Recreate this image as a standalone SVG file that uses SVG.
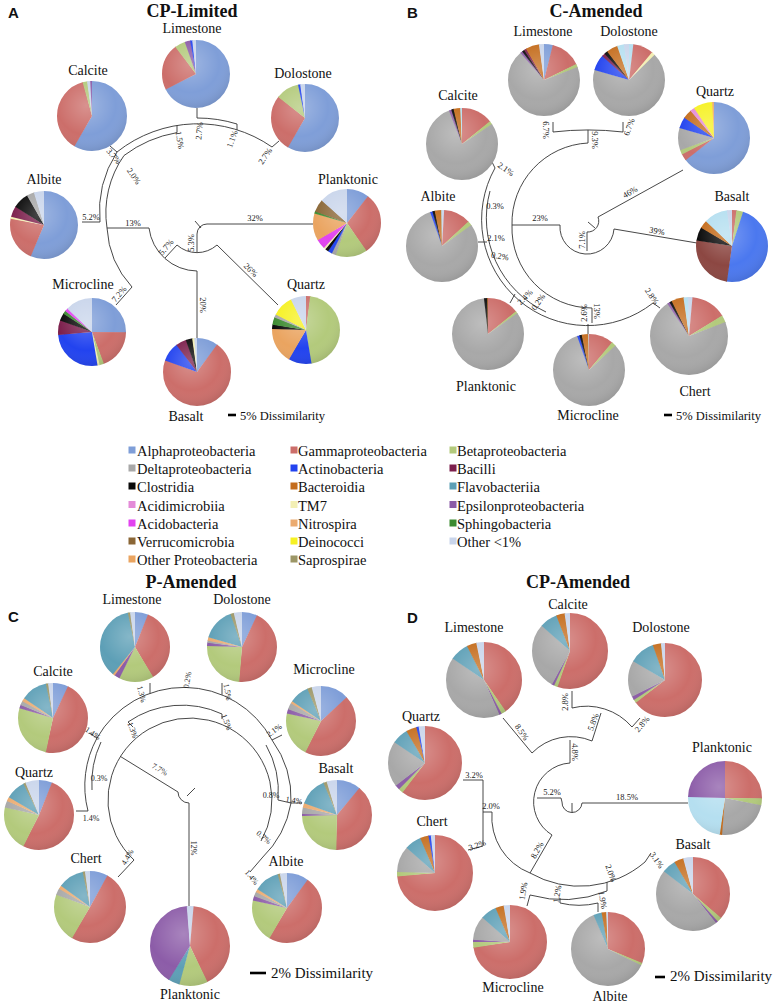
<svg xmlns="http://www.w3.org/2000/svg" width="773" height="1005" viewBox="0 0 773 1005">
<style>
.t{fill:none;stroke:#333;stroke-width:.9}
.l{font-family:"Liberation Serif",serif;font-size:8.5px;fill:#222;text-anchor:middle}
.lc{font-family:"Liberation Serif",serif;font-size:8px;fill:#222;text-anchor:middle}
.n{font-family:"Liberation Serif",serif;font-size:14px;fill:#111;text-anchor:middle}
.ti{font-family:"Liberation Serif",serif;font-weight:bold;font-size:18px;fill:#111;text-anchor:middle}
.pl{font-family:"Liberation Sans",Arial,sans-serif;font-weight:bold;font-size:15px;fill:#111}
.lg{font-family:"Liberation Serif",serif;font-size:14.5px;fill:#111}
.sc{font-family:"Liberation Serif",serif;fill:#111}
.bar{stroke:#000;stroke-width:2.6}
.al{stroke:#7f9ed8;fill:#7f9ed8}.ga{stroke:#cc6e6a;fill:#cc6e6a}.be{stroke:#b3ca7c;fill:#b3ca7c}
.de{stroke:#a8a8a8;fill:#a8a8a8}.ac{stroke:#2243ef;fill:#2243ef}.ac2{stroke:#4b78ef}
.ba{stroke:#7c1f4c;fill:#7c1f4c}.cl{stroke:#0a0a0a;fill:#0a0a0a}.bd{stroke:#c46c1c;fill:#c46c1c}
.fl{stroke:#5d9fb6;fill:#5d9fb6}.fl2{stroke:#b5dff0}.am{stroke:#e48bd8;fill:#e48bd8}
.tm{stroke:#f3efb4;fill:#f3efb4}.ep{stroke:#8c5ca8;fill:#8c5ca8}.ab{stroke:#e243f0;fill:#e243f0}
.ni{stroke:#ebab70;fill:#ebab70}.sp{stroke:#3c8b30;fill:#3c8b30}.ve{stroke:#8a6636;fill:#8a6636}
.dn{stroke:#f6f122;fill:#f6f122}.ot{stroke:#c9d5eb;fill:#c9d5eb}.op{stroke:#eaa460;fill:#eaa460}
.sa{stroke:#9c9666;fill:#9c9666}.rb{stroke:#8c4742}
</style>
<defs>
<circle id="w" r="15.9155" fill="none" stroke-width="31.831"/>
<radialGradient id="shg" cx=".42" cy=".35" r=".7"><stop offset="0" stop-color="#fff" stop-opacity=".25"/><stop offset=".6" stop-color="#fff" stop-opacity="0"/><stop offset="1" stop-color="#000" stop-opacity=".12"/></radialGradient>
<circle id="sh" r="31.831" fill="url(#shg)"/>
</defs>
<rect width="773" height="1005" fill="#fff"/>

<!-- Titles -->
<text class="pl" x="8" y="18">A</text>
<text class="ti" x="192" y="17">CP-Limited</text>
<text class="pl" x="407" y="18">B</text>
<text class="ti" x="596" y="17">C-Amended</text>
<text class="pl" x="8" y="622">C</text>
<text class="ti" x="191" y="588">P-Amended</text>
<text class="pl" x="407" y="623">D</text>
<text class="ti" x="578" y="588">CP-Amended</text>

<!-- ===== Panel A connectors ===== -->
<g id="connectors-a" class="t">
<path d="M207,224 H313"/>
<path d="M207,224 A10,10 0 0 0 197,234 V252"/>
<path d="M195,221 L201,228"/>
<path d="M177,245 A30,30 0 0 0 217,245 L278,305"/>
<path d="M177,245 L165,258"/>
<path d="M149,228 A49,49 0 0 0 197,271 V338"/>
<path d="M107,228 H149"/>
<path d="M124,155.5 A100,100 0 0 0 107,228 A95,95 0 0 0 132,287 L116,305"/>
<path d="M117,152 A110,110 0 0 0 100,222 H82"/>
<path d="M117,152 A130,130 0 0 1 272,147 L279,141"/>
<path d="M117,152 L110,146"/>
<path d="M177,132.6 A123,123 0 0 0 124,155.5"/>
<path d="M177,125.5 V132.6"/>
<path d="M197,108 V118 A134,134 0 0 1 237,124 V130"/>
</g>
<g id="labels-a">
<text class="l" x="255" y="221">32%</text>
<text class="l" transform="translate(251 270) rotate(45)" y="3">26%</text>
<text class="l" transform="translate(203 305) rotate(90)" y="3">20%</text>
<text class="l" transform="translate(191 243) rotate(-90)" y="3">5.3%</text>
<text class="l" transform="translate(166 247) rotate(-50)" y="3">5.7%</text>
<text class="l" x="133" y="226">13%</text>
<text class="l" x="91" y="220">5.2%</text>
<text class="l" transform="translate(119 294) rotate(-50)" y="3">7.2%</text>
<text class="l" transform="translate(134 176) rotate(55)" y="3">2.0%</text>
<text class="l" transform="translate(114 156) rotate(50)" y="3">3.7%</text>
<text class="l" transform="translate(180 140) rotate(80)" y="3">1.5%</text>
<text class="l" transform="translate(199 131) rotate(-85)" y="3">2.7%</text>
<text class="l" transform="translate(232 139) rotate(-70)" y="3">1.1%</text>
<text class="l" transform="translate(265 156) rotate(-55)" y="3">2.7%</text>
</g>

<!-- ===== Panel A nodes ===== -->
<g id="a-limestone"><g transform="translate(196 74) scale(1.068)"><g transform="rotate(-90)">
<use href="#w" class="al" stroke-dasharray="67.3 100"/><use href="#w" class="ga" stroke-dasharray="22.3 100" stroke-dashoffset="-67"/><use href="#w" class="be" stroke-dasharray="5.3 100" stroke-dashoffset="-89"/><use href="#w" class="ep" stroke-dasharray="2.8 100" stroke-dashoffset="-94"/><use href="#w" class="ac" stroke-dasharray="1.3 100" stroke-dashoffset="-96.5"/><use href="#w" class="ot" stroke-dasharray="2.5 100" stroke-dashoffset="-97.5"/>
</g><use href="#sh"/></g><text class="n" x="192" y="33">Limestone</text></g>

<g id="a-calcite"><g transform="translate(92 116) scale(1.0996)"><g transform="rotate(-90)">
<use href="#w" class="al" stroke-dasharray="58.3 100"/><use href="#w" class="ga" stroke-dasharray="37.3 100" stroke-dashoffset="-58"/><use href="#w" class="be" stroke-dasharray="2.3 100" stroke-dashoffset="-95"/><use href="#w" class="ot" stroke-dasharray="1.8 100" stroke-dashoffset="-97"/><use href="#w" class="ep" stroke-dasharray="1.5 100" stroke-dashoffset="-98.5"/>
</g><use href="#sh"/></g><text class="n" x="88" y="75">Calcite</text></g>

<g id="a-dolostone"><g transform="translate(305 118) scale(1.068)"><g transform="rotate(-90)">
<use href="#w" class="al" stroke-dasharray="58.3 100"/><use href="#w" class="ga" stroke-dasharray="27.3 100" stroke-dashoffset="-58"/><use href="#w" class="be" stroke-dasharray="11.3 100" stroke-dashoffset="-85"/><use href="#w" class="ac" stroke-dasharray="1.3 100" stroke-dashoffset="-96"/><use href="#w" class="ot" stroke-dasharray="3 100" stroke-dashoffset="-97"/>
</g><use href="#sh"/></g><text class="n" x="303" y="78">Dolostone</text></g>

<g id="a-albite"><g transform="translate(44 225) scale(1.068)"><g transform="rotate(-90)">
<use href="#w" class="al" stroke-dasharray="56.3 100"/><use href="#w" class="ga" stroke-dasharray="21.8 100" stroke-dashoffset="-56"/><use href="#w" class="tm" stroke-dasharray="1.3 100" stroke-dashoffset="-77.5"/><use href="#w" class="ba" stroke-dasharray="5.3 100" stroke-dashoffset="-78.5"/><use href="#w" class="cl" stroke-dasharray="7.8 100" stroke-dashoffset="-83.5"/><use href="#w" class="de" stroke-dasharray="3.8 100" stroke-dashoffset="-91"/><use href="#w" class="ot" stroke-dasharray="5.5 100" stroke-dashoffset="-94.5"/>
</g><use href="#sh"/></g><text class="n" x="44" y="184">Albite</text></g>

<g id="a-planktonic"><g transform="translate(347 223) scale(1.068)"><g transform="rotate(-90)">
<use href="#w" class="al" stroke-dasharray="10.8 100"/><use href="#w" class="ga" stroke-dasharray="29.8 100" stroke-dashoffset="-10.5"/><use href="#w" class="be" stroke-dasharray="15.3 100" stroke-dashoffset="-40"/><use href="#w" class="de" stroke-dasharray="2.3 100" stroke-dashoffset="-55"/><use href="#w" class="ac" stroke-dasharray="2.3 100" stroke-dashoffset="-57"/><use href="#w" class="cl" stroke-dasharray="1.8 100" stroke-dashoffset="-59"/><use href="#w" class="tm" stroke-dasharray="1.3 100" stroke-dashoffset="-60.5"/><use href="#w" class="ab" stroke-dasharray="4.8 100" stroke-dashoffset="-61.5"/><use href="#w" class="op" stroke-dasharray="13.3 100" stroke-dashoffset="-66"/><use href="#w" class="sp" stroke-dasharray="1.3 100" stroke-dashoffset="-79"/><use href="#w" class="ve" stroke-dasharray="6.3 100" stroke-dashoffset="-80"/><use href="#w" class="ot" stroke-dasharray="14 100" stroke-dashoffset="-86"/>
</g><use href="#sh"/></g><text class="n" x="348" y="184">Planktonic</text></g>

<g id="a-microcline"><g transform="translate(92 332) scale(1.068)"><g transform="rotate(-90)">
<use href="#w" class="al" stroke-dasharray="25.3 100"/><use href="#w" class="ga" stroke-dasharray="19.3 100" stroke-dashoffset="-25"/><use href="#w" class="be" stroke-dasharray="2.3 100" stroke-dashoffset="-44"/><use href="#w" class="tm" stroke-dasharray="1.3 100" stroke-dashoffset="-46"/><use href="#w" class="ac" stroke-dasharray="26.3 100" stroke-dashoffset="-47"/><use href="#w" class="ba" stroke-dasharray="7.3 100" stroke-dashoffset="-73"/><use href="#w" class="cl" stroke-dasharray="3.8 100" stroke-dashoffset="-80"/><use href="#w" class="sp" stroke-dasharray="1.8 100" stroke-dashoffset="-83.5"/><use href="#w" class="ab" stroke-dasharray="1.8 100" stroke-dashoffset="-85"/><use href="#w" class="ot" stroke-dasharray="13.5 100" stroke-dashoffset="-86.5"/>
</g><use href="#sh"/></g><text class="n" x="83" y="289">Microcline</text></g>

<g id="a-quartz"><g transform="translate(306 330) scale(1.068)"><g transform="rotate(-90)">
<use href="#w" class="ga" stroke-dasharray="2.3 100"/><use href="#w" class="be" stroke-dasharray="45.3 100" stroke-dashoffset="-2"/><use href="#w" class="ac" stroke-dasharray="11.3 100" stroke-dashoffset="-47"/><use href="#w" class="op" stroke-dasharray="17.3 100" stroke-dashoffset="-58"/><use href="#w" class="cl" stroke-dasharray="2.3 100" stroke-dashoffset="-75"/><use href="#w" class="sp" stroke-dasharray="3.8 100" stroke-dashoffset="-77"/><use href="#w" class="de" stroke-dasharray="1.8 100" stroke-dashoffset="-80.5"/><use href="#w" class="dn" stroke-dasharray="10.3 100" stroke-dashoffset="-82"/><use href="#w" class="ot" stroke-dasharray="8 100" stroke-dashoffset="-92"/>
</g><use href="#sh"/></g><text class="n" x="306" y="289">Quartz</text></g>

<g id="a-basalt"><g transform="translate(197 372) scale(1.068)"><g transform="rotate(-90)">
<use href="#w" class="al" stroke-dasharray="10.3 100"/><use href="#w" class="ga" stroke-dasharray="70.3 100" stroke-dashoffset="-10"/><use href="#w" class="ac" stroke-dasharray="9.3 100" stroke-dashoffset="-80"/><use href="#w" class="ba" stroke-dasharray="5.3 100" stroke-dashoffset="-89"/><use href="#w" class="cl" stroke-dasharray="3.3 100" stroke-dashoffset="-94"/><use href="#w" class="tm" stroke-dasharray="1.3 100" stroke-dashoffset="-97"/><use href="#w" class="ot" stroke-dasharray="2 100" stroke-dashoffset="-98"/>
</g><use href="#sh"/></g><text class="n" x="186" y="421">Basalt</text></g>

<g id="scale-a"><path class="bar" d="M228,415 H236"/><text class="sc" font-size="12.5" x="240" y="420">5% Dissimilarity</text></g>

<!-- ===== Panel B connectors ===== -->
<g id="connectors-b" class="t">
<path d="M598,217 L683,170"/>
<path d="M598,217 A11,11 0 0 1 587,232 V251"/>
<path d="M588,222 L595,228"/>
<path d="M560,225 A27,27 0 0 0 614,229 L697,243"/>
<path d="M512,225 H560"/>
<path d="M512,225 A80,80 0 0 1 588,143 V130"/>
<path d="M512,225 A80,80 0 0 0 592,308 V323"/>
<path d="M553,122 V132 A300,300 0 0 1 623,132 V122"/>
<path d="M495,168 A106,106 0 0 0 653,303 L660,308"/>
<path d="M490,191 A103.5,103.5 0 0 0 546,312"/>
<path d="M495,168 L492,162"/>
<path d="M487,242 H478"/>
<path d="M515,294 L510,303"/>
<path d="M588,324 V334"/>
</g>
<g id="labels-b">
<text class="l" transform="translate(630 192) rotate(-30)" y="3">46%</text>
<text class="l" transform="translate(657 231) rotate(10)" y="3">39%</text>
<text class="l" x="540" y="221">23%</text>
<text class="l" transform="translate(582 240) rotate(-90)" y="3">7.1%</text>
<text class="l" transform="translate(546 130) rotate(90)" y="3">6.7%</text>
<text class="l" transform="translate(629 127) rotate(-70)" y="3">6.7%</text>
<text class="l" transform="translate(595 140) rotate(90)" y="3">9.3%</text>
<text class="l" transform="translate(506 169) rotate(35)" y="3">2.1%</text>
<text class="l" x="495" y="209">0.3%</text>
<text class="l" x="496" y="241">2.1%</text>
<text class="l" transform="translate(500 256) rotate(10)" y="3">0.2%</text>
<text class="l" transform="translate(525 297) rotate(-45)" y="3">2.4%</text>
<text class="l" transform="translate(538 302) rotate(-55)" y="3">0.2%</text>
<text class="l" transform="translate(584 313) rotate(-90)" y="3">2.6%</text>
<text class="l" transform="translate(597 311) rotate(90)" y="3">13%</text>
<text class="l" transform="translate(652 296) rotate(55)" y="3">2.8%</text>
</g>

<!-- ===== Panel B nodes ===== -->
<g id="b-limestone"><g transform="translate(544 80) scale(1.131)"><g transform="rotate(-90)">
<use href="#w" class="al" stroke-dasharray="4.3 100"/><use href="#w" class="ga" stroke-dasharray="13.8 100" stroke-dashoffset="-4"/><use href="#w" class="be" stroke-dasharray="1.8 100" stroke-dashoffset="-17.5"/><use href="#w" class="de" stroke-dasharray="69.3 100" stroke-dashoffset="-19"/><use href="#w" class="ep" stroke-dasharray="1.3 100" stroke-dashoffset="-88"/><use href="#w" class="cl" stroke-dasharray="1.3 100" stroke-dashoffset="-89"/><use href="#w" class="ba" stroke-dasharray="1.3 100" stroke-dashoffset="-90"/><use href="#w" class="bd" stroke-dasharray="6.3 100" stroke-dashoffset="-91"/><use href="#w" class="ot" stroke-dasharray="3 100" stroke-dashoffset="-97"/>
</g><use href="#sh"/></g><text class="n" x="543" y="36">Limestone</text></g>

<g id="b-dolostone"><g transform="translate(629 80) scale(1.131)"><g transform="rotate(-90)">
<use href="#w" class="fl2" stroke-dasharray="2.3 100"/><use href="#w" class="ga" stroke-dasharray="9.3 100" stroke-dashoffset="-2"/><use href="#w" class="tm" stroke-dasharray="1.8 100" stroke-dashoffset="-11"/><use href="#w" class="de" stroke-dasharray="66.8 100" stroke-dashoffset="-12.5"/><use href="#w" class="ac" stroke-dasharray="7.3 100" stroke-dashoffset="-79"/><use href="#w" class="ba" stroke-dasharray="1.8 100" stroke-dashoffset="-86"/><use href="#w" class="cl" stroke-dasharray="1.8 100" stroke-dashoffset="-87.5"/><use href="#w" class="bd" stroke-dasharray="5.3 100" stroke-dashoffset="-89"/><use href="#w" class="fl2" stroke-dasharray="3.3 100" stroke-dashoffset="-94"/><use href="#w" class="ot" stroke-dasharray="3 100" stroke-dashoffset="-97"/>
</g><use href="#sh"/></g><text class="n" x="629" y="36">Dolostone</text></g>

<g id="b-quartz"><g transform="translate(714 138) scale(1.131)"><g transform="rotate(-90)">
<use href="#w" class="al" stroke-dasharray="64.3 100"/><use href="#w" class="ga" stroke-dasharray="3.3 100" stroke-dashoffset="-64"/><use href="#w" class="be" stroke-dasharray="2.3 100" stroke-dashoffset="-67"/><use href="#w" class="de" stroke-dasharray="10.3 100" stroke-dashoffset="-69"/><use href="#w" class="ac" stroke-dasharray="5.3 100" stroke-dashoffset="-79"/><use href="#w" class="bd" stroke-dasharray="4.3 100" stroke-dashoffset="-84"/><use href="#w" class="am" stroke-dasharray="2.3 100" stroke-dashoffset="-88"/><use href="#w" class="dn" stroke-dasharray="8.8 100" stroke-dashoffset="-90"/><use href="#w" class="ni" stroke-dasharray="1.5 100" stroke-dashoffset="-98.5"/>
</g><use href="#sh"/></g><text class="n" x="715" y="96">Quartz</text></g>

<g id="b-calcite"><g transform="translate(462 144) scale(1.131)"><g transform="rotate(-90)">
<use href="#w" class="ga" stroke-dasharray="14.3 100"/><use href="#w" class="be" stroke-dasharray="1.8 100" stroke-dashoffset="-14"/><use href="#w" class="de" stroke-dasharray="78.3 100" stroke-dashoffset="-15.5"/><use href="#w" class="ep" stroke-dasharray="1.3 100" stroke-dashoffset="-93.5"/><use href="#w" class="cl" stroke-dasharray="1.3 100" stroke-dashoffset="-94.5"/><use href="#w" class="bd" stroke-dasharray="3.3 100" stroke-dashoffset="-95.5"/><use href="#w" class="fl2" stroke-dasharray="1.5 100" stroke-dashoffset="-98.5"/>
</g><use href="#sh"/></g><text class="n" x="458" y="100">Calcite</text></g>

<g id="b-albite"><g transform="translate(442 246) scale(1.131)"><g transform="rotate(-90)">
<use href="#w" class="ot" stroke-dasharray="1.3 100"/><use href="#w" class="ga" stroke-dasharray="12.3 100" stroke-dashoffset="-1"/><use href="#w" class="be" stroke-dasharray="2.3 100" stroke-dashoffset="-13"/><use href="#w" class="de" stroke-dasharray="79.3 100" stroke-dashoffset="-15"/><use href="#w" class="ac" stroke-dasharray="1.3 100" stroke-dashoffset="-94"/><use href="#w" class="cl" stroke-dasharray="1.3 100" stroke-dashoffset="-95"/><use href="#w" class="bd" stroke-dasharray="3.3 100" stroke-dashoffset="-96"/><use href="#w" class="fl2" stroke-dasharray="1 100" stroke-dashoffset="-99"/>
</g><use href="#sh"/></g><text class="n" x="438" y="201">Albite</text></g>

<g id="b-basalt"><g transform="translate(732 246) scale(1.131)"><g transform="rotate(-90)">
<use href="#w" class="ga" stroke-dasharray="2.3 100"/><use href="#w" class="be" stroke-dasharray="3.3 100" stroke-dashoffset="-2"/><use href="#w" class="ac2" stroke-dasharray="47.3 100" stroke-dashoffset="-5"/><use href="#w" class="rb" stroke-dasharray="25.3 100" stroke-dashoffset="-52"/><use href="#w" class="cl" stroke-dasharray="6.3 100" stroke-dashoffset="-77"/><use href="#w" class="bd" stroke-dasharray="3.8 100" stroke-dashoffset="-83"/><use href="#w" class="fl2" stroke-dasharray="10.8 100" stroke-dashoffset="-86.5"/><use href="#w" class="ot" stroke-dasharray="3 100" stroke-dashoffset="-97"/>
</g><use href="#sh"/></g><text class="n" x="732" y="201">Basalt</text></g>

<g id="b-planktonic"><g transform="translate(488 334) scale(1.131)"><g transform="rotate(-90)">
<use href="#w" class="ga" stroke-dasharray="14.3 100"/><use href="#w" class="be" stroke-dasharray="1.3 100" stroke-dashoffset="-14"/><use href="#w" class="de" stroke-dasharray="82.8 100" stroke-dashoffset="-15"/><use href="#w" class="cl" stroke-dasharray="1.8 100" stroke-dashoffset="-97.5"/><use href="#w" class="bd" stroke-dasharray="1 100" stroke-dashoffset="-99"/>
</g><use href="#sh"/></g><text class="n" x="486" y="391">Planktonic</text></g>

<g id="b-microcline"><g transform="translate(589 370) scale(1.131)"><g transform="rotate(-90)">
<use href="#w" class="ga" stroke-dasharray="11.3 100"/><use href="#w" class="be" stroke-dasharray="2.3 100" stroke-dashoffset="-11"/><use href="#w" class="de" stroke-dasharray="81.3 100" stroke-dashoffset="-13"/><use href="#w" class="ac" stroke-dasharray="1.3 100" stroke-dashoffset="-94"/><use href="#w" class="cl" stroke-dasharray="1.3 100" stroke-dashoffset="-95"/><use href="#w" class="bd" stroke-dasharray="3.3 100" stroke-dashoffset="-96"/><use href="#w" class="ot" stroke-dasharray="1 100" stroke-dashoffset="-99"/>
</g><use href="#sh"/></g><text class="n" x="588" y="420">Microcline</text></g>

<g id="b-chert"><g transform="translate(689 336) scale(1.2253)"><g transform="rotate(-90)">
<use href="#w" class="ot" stroke-dasharray="1.8 100"/><use href="#w" class="ga" stroke-dasharray="14.8 100" stroke-dashoffset="-1.5"/><use href="#w" class="be" stroke-dasharray="3.3 100" stroke-dashoffset="-16"/><use href="#w" class="de" stroke-dasharray="71.3 100" stroke-dashoffset="-19"/><use href="#w" class="ep" stroke-dasharray="1.3 100" stroke-dashoffset="-90"/><use href="#w" class="cl" stroke-dasharray="1.3 100" stroke-dashoffset="-91"/><use href="#w" class="bd" stroke-dasharray="5.3 100" stroke-dashoffset="-92"/><use href="#w" class="fl2" stroke-dasharray="2.3 100" stroke-dashoffset="-97"/><use href="#w" class="ot" stroke-dasharray="1 100" stroke-dashoffset="-99"/>
</g><use href="#sh"/></g><text class="n" x="695" y="396">Chert</text></g>

<g id="scale-b"><path class="bar" d="M664,415 H672"/><text class="sc" font-size="12.5" x="676" y="420">5% Dissimilarity</text></g>

<!-- ===== Legend ===== -->
<g id="legend">
<rect class="al" x="129" y="447" width="6" height="6"/><text class="lg" x="137" y="456">Alphaproteobacteria</text>
<rect class="de" x="129" y="465" width="6" height="6"/><text class="lg" x="137" y="474">Deltaproteobacteria</text>
<rect class="cl" x="129" y="483" width="6" height="6"/><text class="lg" x="137" y="492">Clostridia</text>
<rect class="am" x="129" y="501.5" width="6" height="6"/><text class="lg" x="137" y="510.5">Acidimicrobiia</text>
<rect class="ab" x="129" y="520" width="6" height="6"/><text class="lg" x="137" y="529">Acidobacteria</text>
<rect class="ve" x="129" y="538" width="6" height="6"/><text class="lg" x="137" y="547">Verrucomicrobia</text>
<rect class="op" x="129" y="556" width="6" height="6"/><text class="lg" x="137" y="565">Other Proteobacteria</text>
<rect class="ga" x="291" y="447" width="6" height="6"/><text class="lg" x="298" y="456">Gammaproteobacteria</text>
<rect class="ac" x="291" y="465" width="6" height="6"/><text class="lg" x="298" y="474">Actinobacteria</text>
<rect class="bd" x="291" y="483" width="6" height="6"/><text class="lg" x="298" y="492">Bacteroidia</text>
<rect class="tm" x="291" y="501.5" width="6" height="6"/><text class="lg" x="298" y="510.5">TM7</text>
<rect class="ni" x="291" y="520" width="6" height="6"/><text class="lg" x="298" y="529">Nitrospira</text>
<rect class="dn" x="291" y="538" width="6" height="6"/><text class="lg" x="298" y="547">Deinococci</text>
<rect class="sa" x="291" y="556" width="6" height="6"/><text class="lg" x="298" y="565">Saprospirae</text>
<rect class="be" x="450" y="447" width="6" height="6"/><text class="lg" x="457" y="456">Betaproteobacteria</text>
<rect class="ba" x="450" y="465" width="6" height="6"/><text class="lg" x="457" y="474">Bacilli</text>
<rect class="fl" x="450" y="483" width="6" height="6"/><text class="lg" x="457" y="492">Flavobacteriia</text>
<rect class="ep" x="450" y="501.5" width="6" height="6"/><text class="lg" x="457" y="510.5">Epsilonproteobacteria</text>
<rect class="sp" x="450" y="520" width="6" height="6"/><text class="lg" x="457" y="529">Sphingobacteria</text>
<rect class="ot" x="450" y="538" width="6" height="6"/><text class="lg" x="457" y="547">Other &lt;1%</text>
</g>

<!-- ===== Panel C connectors ===== -->
<g id="connectors-c" class="t">
<path d="M97,738 A100,100 0 0 1 272,740"/>
<path d="M128,722 A95,95 0 0 1 222,714"/>
<path d="M128,722 L133,727"/>
<path d="M222,714 V719"/>
<path d="M150,683 V693.5"/>
<path d="M222,683 V694.7"/>
<path d="M97,738 L89,733"/>
<path d="M272,740 L282,735"/>
<path d="M97,738 A100,100 0 0 0 88,811 H76"/>
<path d="M101,742 A97,97 0 0 0 92,790"/>
<path d="M272,740 A100,100 0 0 1 291,803 H302"/>
<path d="M291,803 A100,100 0 0 1 262,858 L250,872"/>
<path d="M266,745 A95,95 0 0 1 278,800 L291,803"/>
<path d="M134,860 A82,82 0 1 1 261,841"/>
<path d="M134,860 L118,877"/>
<path d="M120.5,756.5 L178,792"/>
<path d="M178,792 A11,11 0 0 0 189,803 V906"/>
<path d="M187,796 L195,788"/>
</g>
<g id="labels-c">
<text class="lc" transform="translate(142 694) rotate(75)" y="3">1.3%</text>
<text class="lc" transform="translate(187 680) rotate(-80)" y="3">0.2%</text>
<text class="lc" transform="translate(228 692) rotate(80)" y="3">1.5%</text>
<text class="lc" transform="translate(133 730) rotate(70)" y="3">1.3%</text>
<text class="lc" transform="translate(227 722) rotate(70)" y="3">1.5%</text>
<text class="lc" transform="translate(93 733) rotate(35)" y="3">1.4%</text>
<text class="lc" transform="translate(274 730) rotate(-35)" y="3">2.1%</text>
<text class="lc" x="99" y="781">0.3%</text>
<text class="lc" x="91" y="821">1.4%</text>
<text class="lc" transform="translate(127 857) rotate(-60)" y="3">4.4%</text>
<text class="lc" transform="translate(160 769) rotate(30)" y="3">7.7%</text>
<text class="lc" transform="translate(194 848) rotate(90)" y="3">12%</text>
<text class="lc" x="271" y="798">0.8%</text>
<text class="lc" transform="translate(294 800) rotate(10)" y="3">1.4%</text>
<text class="lc" transform="translate(264 837) rotate(40)" y="3">0.7%</text>
<text class="lc" transform="translate(252 877) rotate(50)" y="3">1.4%</text>
</g>

<!-- ===== Panel C nodes ===== -->
<g id="c-limestone"><g transform="translate(135 647) scale(1.0996)"><g transform="rotate(-90)">
<use href="#w" class="al" stroke-dasharray="6.3 100"/><use href="#w" class="ga" stroke-dasharray="35.3 100" stroke-dashoffset="-6"/><use href="#w" class="be" stroke-dasharray="16.3 100" stroke-dashoffset="-41"/><use href="#w" class="ep" stroke-dasharray="2.8 100" stroke-dashoffset="-57"/><use href="#w" class="ni" stroke-dasharray="1.3 100" stroke-dashoffset="-59.5"/><use href="#w" class="fl" stroke-dasharray="35.8 100" stroke-dashoffset="-60.5"/><use href="#w" class="sa" stroke-dasharray="1.3 100" stroke-dashoffset="-96"/><use href="#w" class="ot" stroke-dasharray="3 100" stroke-dashoffset="-97"/>
</g><use href="#sh"/></g><text class="n" x="132" y="604">Limestone</text></g>

<g id="c-dolostone"><g transform="translate(242 647) scale(1.0996)"><g transform="rotate(-90)">
<use href="#w" class="al" stroke-dasharray="7.3 100"/><use href="#w" class="ga" stroke-dasharray="44.3 100" stroke-dashoffset="-7"/><use href="#w" class="be" stroke-dasharray="24.3 100" stroke-dashoffset="-51"/><use href="#w" class="ep" stroke-dasharray="1.8 100" stroke-dashoffset="-75"/><use href="#w" class="de" stroke-dasharray="1.3 100" stroke-dashoffset="-76.5"/><use href="#w" class="ni" stroke-dasharray="1.8 100" stroke-dashoffset="-77.5"/><use href="#w" class="fl" stroke-dasharray="15.3 100" stroke-dashoffset="-79"/><use href="#w" class="sa" stroke-dasharray="1.8 100" stroke-dashoffset="-94"/><use href="#w" class="ot" stroke-dasharray="4.5 100" stroke-dashoffset="-95.5"/>
</g><use href="#sh"/></g><text class="n" x="242" y="604">Dolostone</text></g>

<g id="c-calcite"><g transform="translate(53 718) scale(1.0996)"><g transform="rotate(-90)">
<use href="#w" class="al" stroke-dasharray="7.3 100"/><use href="#w" class="ga" stroke-dasharray="46.3 100" stroke-dashoffset="-7"/><use href="#w" class="be" stroke-dasharray="26.3 100" stroke-dashoffset="-53"/><use href="#w" class="ep" stroke-dasharray="1.8 100" stroke-dashoffset="-79"/><use href="#w" class="de" stroke-dasharray="2.3 100" stroke-dashoffset="-80.5"/><use href="#w" class="ni" stroke-dasharray="1.8 100" stroke-dashoffset="-82.5"/><use href="#w" class="fl" stroke-dasharray="12.3 100" stroke-dashoffset="-84"/><use href="#w" class="sa" stroke-dasharray="1.3 100" stroke-dashoffset="-96"/><use href="#w" class="ot" stroke-dasharray="3 100" stroke-dashoffset="-97"/>
</g><use href="#sh"/></g><text class="n" x="53" y="676">Calcite</text></g>

<g id="c-microcline"><g transform="translate(321 721) scale(1.0996)"><g transform="rotate(-90)">
<use href="#w" class="al" stroke-dasharray="13.3 100"/><use href="#w" class="ga" stroke-dasharray="44.3 100" stroke-dashoffset="-13"/><use href="#w" class="be" stroke-dasharray="21.3 100" stroke-dashoffset="-57"/><use href="#w" class="ep" stroke-dasharray="2.3 100" stroke-dashoffset="-78"/><use href="#w" class="de" stroke-dasharray="3.3 100" stroke-dashoffset="-80"/><use href="#w" class="ni" stroke-dasharray="1.3 100" stroke-dashoffset="-83"/><use href="#w" class="fl" stroke-dasharray="9.3 100" stroke-dashoffset="-84"/><use href="#w" class="sa" stroke-dasharray="2.3 100" stroke-dashoffset="-93"/><use href="#w" class="ot" stroke-dasharray="5 100" stroke-dashoffset="-95"/>
</g><use href="#sh"/></g><text class="n" x="324" y="674">Microcline</text></g>

<g id="c-quartz"><g transform="translate(39 815) scale(1.0996)"><g transform="rotate(-90)">
<use href="#w" class="al" stroke-dasharray="6.3 100"/><use href="#w" class="ga" stroke-dasharray="51.3 100" stroke-dashoffset="-6"/><use href="#w" class="be" stroke-dasharray="21.3 100" stroke-dashoffset="-57"/><use href="#w" class="de" stroke-dasharray="3.3 100" stroke-dashoffset="-78"/><use href="#w" class="ni" stroke-dasharray="2.3 100" stroke-dashoffset="-81"/><use href="#w" class="fl" stroke-dasharray="9.3 100" stroke-dashoffset="-83"/><use href="#w" class="sa" stroke-dasharray="1.3 100" stroke-dashoffset="-92"/><use href="#w" class="ot" stroke-dasharray="7 100" stroke-dashoffset="-93"/>
</g><use href="#sh"/></g><text class="n" x="34" y="777">Quartz</text></g>

<g id="c-basalt"><g transform="translate(337 815) scale(1.0996)"><g transform="rotate(-90)">
<use href="#w" class="al" stroke-dasharray="11.3 100"/><use href="#w" class="ga" stroke-dasharray="39.3 100" stroke-dashoffset="-11"/><use href="#w" class="be" stroke-dasharray="24.3 100" stroke-dashoffset="-50"/><use href="#w" class="ep" stroke-dasharray="1.3 100" stroke-dashoffset="-74"/><use href="#w" class="de" stroke-dasharray="3.3 100" stroke-dashoffset="-75"/><use href="#w" class="ni" stroke-dasharray="2.3 100" stroke-dashoffset="-78"/><use href="#w" class="fl" stroke-dasharray="13.3 100" stroke-dashoffset="-80"/><use href="#w" class="sa" stroke-dasharray="1.8 100" stroke-dashoffset="-93"/><use href="#w" class="ot" stroke-dasharray="5.5 100" stroke-dashoffset="-94.5"/>
</g><use href="#sh"/></g><text class="n" x="336" y="773">Basalt</text></g>

<g id="c-chert"><g transform="translate(90 907) scale(1.131)"><g transform="rotate(-90)">
<use href="#w" class="al" stroke-dasharray="8.3 100"/><use href="#w" class="ga" stroke-dasharray="50.3 100" stroke-dashoffset="-8"/><use href="#w" class="be" stroke-dasharray="22.3 100" stroke-dashoffset="-58"/><use href="#w" class="de" stroke-dasharray="3.3 100" stroke-dashoffset="-80"/><use href="#w" class="ni" stroke-dasharray="1.8 100" stroke-dashoffset="-83"/><use href="#w" class="fl" stroke-dasharray="11.8 100" stroke-dashoffset="-84.5"/><use href="#w" class="sa" stroke-dasharray="1.3 100" stroke-dashoffset="-96"/><use href="#w" class="ot" stroke-dasharray="3 100" stroke-dashoffset="-97"/>
</g><use href="#sh"/></g><text class="n" x="86" y="863">Chert</text></g>

<g id="c-albite"><g transform="translate(287 908) scale(1.0996)"><g transform="rotate(-90)">
<use href="#w" class="al" stroke-dasharray="10.3 100"/><use href="#w" class="ga" stroke-dasharray="48.3 100" stroke-dashoffset="-10"/><use href="#w" class="be" stroke-dasharray="20.3 100" stroke-dashoffset="-58"/><use href="#w" class="ep" stroke-dasharray="2.3 100" stroke-dashoffset="-78"/><use href="#w" class="de" stroke-dasharray="2.3 100" stroke-dashoffset="-80"/><use href="#w" class="ni" stroke-dasharray="1.8 100" stroke-dashoffset="-82"/><use href="#w" class="fl" stroke-dasharray="11.8 100" stroke-dashoffset="-83.5"/><use href="#w" class="sa" stroke-dasharray="1.3 100" stroke-dashoffset="-95"/><use href="#w" class="ot" stroke-dasharray="4 100" stroke-dashoffset="-96"/>
</g><use href="#sh"/></g><text class="n" x="286" y="866">Albite</text></g>

<g id="c-planktonic"><g transform="translate(190 946) scale(1.2567)"><g transform="rotate(-90)">
<use href="#w" class="ot" stroke-dasharray="1.8 100"/><use href="#w" class="ga" stroke-dasharray="41.3 100" stroke-dashoffset="-1.5"/><use href="#w" class="be" stroke-dasharray="11.8 100" stroke-dashoffset="-42.5"/><use href="#w" class="fl" stroke-dasharray="4.8 100" stroke-dashoffset="-54"/><use href="#w" class="ep" stroke-dasharray="39.8 100" stroke-dashoffset="-58.5"/><use href="#w" class="ot" stroke-dasharray="2 100" stroke-dashoffset="-98"/>
</g><use href="#sh"/></g><text class="n" x="190" y="999">Planktonic</text></g>

<g id="scale-c"><path class="bar" stroke-width="3" d="M250,973 H266"/><text class="sc" font-size="15" x="271" y="978">2% Dissimilarity</text></g>

<!-- ===== Panel D connectors ===== -->
<g id="connectors-d" class="t">
<path d="M572,691 V708 A60,60 0 0 1 632,727 L640,718"/>
<path d="M601,713 L592,741"/>
<path d="M532,753 A54,54 0 0 1 592,741"/>
<path d="M532,753 L503,718"/>
<path d="M570,740 V763"/>
<path d="M570,763 A39,39 0 0 0 552,835"/>
<path d="M537,798 H561 L562,802 A10,10 0 0 0 582,803 H688"/>
<path d="M572,803 V813"/>
<path d="M552,835 L530,873"/>
<path d="M530,873 A60,60 0 0 1 492,812 H483"/>
<path d="M483,780 V846 L468,850"/>
<path d="M483,780 H463"/>
<path d="M530,873 A100,100 0 0 0 645,862 L651,853"/>
<path d="M607,882 V891"/>
<path d="M530,895 A120,120 0 0 0 607,891"/>
<path d="M530,895 L527,906"/>
<path d="M560,898 V903"/>
<path d="M560,903 A80,80 0 0 0 598,903 V912"/>
</g>
<g id="labels-d">
<text class="l" transform="translate(565 702) rotate(-90)" y="3">2.8%</text>
<text class="l" transform="translate(642 724) rotate(-50)" y="3">2.8%</text>
<text class="l" transform="translate(593 722) rotate(-70)" y="3">5.8%</text>
<text class="l" transform="translate(522 732) rotate(55)" y="3">8.5%</text>
<text class="l" transform="translate(575 752) rotate(90)" y="3">4.8%</text>
<text class="l" x="552" y="795">5.2%</text>
<text class="l" x="627" y="800">18.5%</text>
<text class="l" x="474" y="778">3.2%</text>
<text class="l" x="491" y="809">2.0%</text>
<text class="l" transform="translate(477 845) rotate(-20)" y="3">3.2%</text>
<text class="l" transform="translate(537 850) rotate(-60)" y="3">8.2%</text>
<text class="l" transform="translate(611 873) rotate(70)" y="3">2.0%</text>
<text class="l" transform="translate(657 860) rotate(55)" y="3">3.1%</text>
<text class="l" transform="translate(523 891) rotate(-80)" y="3">1.9%</text>
<text class="l" transform="translate(557 894) rotate(-80)" y="3">1.2%</text>
<text class="l" transform="translate(603 900) rotate(80)" y="3">1.9%</text>
</g>

<!-- ===== Panel D nodes ===== -->
<g id="d-limestone"><g transform="translate(484 680) scale(1.1938)"><g transform="rotate(-90)">
<use href="#w" class="ga" stroke-dasharray="40.3 100"/><use href="#w" class="be" stroke-dasharray="2.3 100" stroke-dashoffset="-40"/><use href="#w" class="ep" stroke-dasharray="1.3 100" stroke-dashoffset="-42"/><use href="#w" class="de" stroke-dasharray="41.3 100" stroke-dashoffset="-43"/><use href="#w" class="fl" stroke-dasharray="8.3 100" stroke-dashoffset="-84"/><use href="#w" class="bd" stroke-dasharray="4.3 100" stroke-dashoffset="-92"/><use href="#w" class="ot" stroke-dasharray="4 100" stroke-dashoffset="-96"/>
</g><use href="#sh"/></g><text class="n" x="474" y="632">Limestone</text></g>

<g id="d-calcite"><g transform="translate(570 651) scale(1.1938)"><g transform="rotate(-90)">
<use href="#w" class="ga" stroke-dasharray="55.3 100"/><use href="#w" class="be" stroke-dasharray="1.8 100" stroke-dashoffset="-55"/><use href="#w" class="ep" stroke-dasharray="1.3 100" stroke-dashoffset="-56.5"/><use href="#w" class="de" stroke-dasharray="28.8 100" stroke-dashoffset="-57.5"/><use href="#w" class="fl" stroke-dasharray="7.8 100" stroke-dashoffset="-86"/><use href="#w" class="bd" stroke-dasharray="3.8 100" stroke-dashoffset="-93.5"/><use href="#w" class="ot" stroke-dasharray="3 100" stroke-dashoffset="-97"/>
</g><use href="#sh"/></g><text class="n" x="568" y="609">Calcite</text></g>

<g id="d-dolostone"><g transform="translate(665 680) scale(1.1624)"><g transform="rotate(-90)">
<use href="#w" class="ga" stroke-dasharray="64.3 100"/><use href="#w" class="be" stroke-dasharray="1.8 100" stroke-dashoffset="-64"/><use href="#w" class="ep" stroke-dasharray="1.8 100" stroke-dashoffset="-65.5"/><use href="#w" class="de" stroke-dasharray="16.3 100" stroke-dashoffset="-67"/><use href="#w" class="fl" stroke-dasharray="11.3 100" stroke-dashoffset="-83"/><use href="#w" class="bd" stroke-dasharray="3.8 100" stroke-dashoffset="-94"/><use href="#w" class="ot" stroke-dasharray="2.5 100" stroke-dashoffset="-97.5"/>
</g><use href="#sh"/></g><text class="n" x="661" y="632">Dolostone</text></g>

<g id="d-quartz"><g transform="translate(425 763) scale(1.1624)"><g transform="rotate(-90)">
<use href="#w" class="ga" stroke-dasharray="60.3 100"/><use href="#w" class="be" stroke-dasharray="2.3 100" stroke-dashoffset="-60"/><use href="#w" class="ep" stroke-dasharray="2.3 100" stroke-dashoffset="-62"/><use href="#w" class="de" stroke-dasharray="20.3 100" stroke-dashoffset="-64"/><use href="#w" class="fl" stroke-dasharray="7.3 100" stroke-dashoffset="-84"/><use href="#w" class="bd" stroke-dasharray="4.8 100" stroke-dashoffset="-91"/><use href="#w" class="ac" stroke-dasharray="1.3 100" stroke-dashoffset="-95.5"/><use href="#w" class="ot" stroke-dasharray="3.5 100" stroke-dashoffset="-96.5"/>
</g><use href="#sh"/></g><text class="n" x="421" y="721">Quartz</text></g>

<g id="d-planktonic"><g transform="translate(725 798) scale(1.1624)"><g transform="rotate(-90)">
<use href="#w" class="ga" stroke-dasharray="25.3 100"/><use href="#w" class="be" stroke-dasharray="3.3 100" stroke-dashoffset="-25"/><use href="#w" class="de" stroke-dasharray="23.3 100" stroke-dashoffset="-28"/><use href="#w" class="bd" stroke-dasharray="1.3 100" stroke-dashoffset="-51"/><use href="#w" class="fl2" stroke-dasharray="23.3 100" stroke-dashoffset="-52"/><use href="#w" class="ep" stroke-dasharray="25 100" stroke-dashoffset="-75"/>
</g><use href="#sh"/></g><text class="n" x="722" y="752">Planktonic</text></g>

<g id="d-chert"><g transform="translate(435 873) scale(1.1938)"><g transform="rotate(-90)">
<use href="#w" class="ga" stroke-dasharray="73.3 100"/><use href="#w" class="be" stroke-dasharray="2.3 100" stroke-dashoffset="-73"/><use href="#w" class="de" stroke-dasharray="11.3 100" stroke-dashoffset="-75"/><use href="#w" class="fl" stroke-dasharray="7.3 100" stroke-dashoffset="-86"/><use href="#w" class="bd" stroke-dasharray="3.8 100" stroke-dashoffset="-93"/><use href="#w" class="ac" stroke-dasharray="1.3 100" stroke-dashoffset="-96.5"/><use href="#w" class="ot" stroke-dasharray="2.5 100" stroke-dashoffset="-97.5"/>
</g><use href="#sh"/></g><text class="n" x="432" y="826">Chert</text></g>

<g id="d-basalt"><g transform="translate(693 894) scale(1.1624)"><g transform="rotate(-90)">
<use href="#w" class="ga" stroke-dasharray="36.3 100"/><use href="#w" class="be" stroke-dasharray="2.3 100" stroke-dashoffset="-36"/><use href="#w" class="ep" stroke-dasharray="1.3 100" stroke-dashoffset="-38"/><use href="#w" class="de" stroke-dasharray="46.3 100" stroke-dashoffset="-39"/><use href="#w" class="fl" stroke-dasharray="6.3 100" stroke-dashoffset="-85"/><use href="#w" class="bd" stroke-dasharray="4.3 100" stroke-dashoffset="-91"/><use href="#w" class="ot" stroke-dasharray="5 100" stroke-dashoffset="-95"/>
</g><use href="#sh"/></g><text class="n" x="693" y="849">Basalt</text></g>

<g id="d-microcline"><g transform="translate(510 942) scale(1.1624)"><g transform="rotate(-90)">
<use href="#w" class="ga" stroke-dasharray="72.3 100"/><use href="#w" class="be" stroke-dasharray="2.8 100" stroke-dashoffset="-72"/><use href="#w" class="ep" stroke-dasharray="1.3 100" stroke-dashoffset="-74.5"/><use href="#w" class="de" stroke-dasharray="10.8 100" stroke-dashoffset="-75.5"/><use href="#w" class="fl" stroke-dasharray="7.3 100" stroke-dashoffset="-86"/><use href="#w" class="bd" stroke-dasharray="3.8 100" stroke-dashoffset="-93"/><use href="#w" class="ot" stroke-dasharray="3.5 100" stroke-dashoffset="-96.5"/>
</g><use href="#sh"/></g><text class="n" x="513" y="992">Microcline</text></g>

<g id="d-albite"><g transform="translate(608 949) scale(1.1624)"><g transform="rotate(-90)">
<use href="#w" class="ga" stroke-dasharray="31.3 100"/><use href="#w" class="be" stroke-dasharray="1.3 100" stroke-dashoffset="-31"/><use href="#w" class="de" stroke-dasharray="61.3 100" stroke-dashoffset="-32"/><use href="#w" class="fl" stroke-dasharray="3.8 100" stroke-dashoffset="-93"/><use href="#w" class="bd" stroke-dasharray="2.3 100" stroke-dashoffset="-96.5"/><use href="#w" class="ot" stroke-dasharray="1.5 100" stroke-dashoffset="-98.5"/>
</g><use href="#sh"/></g><text class="n" x="610" y="1001">Albite</text></g>

<g id="scale-d"><path class="bar" stroke-width="3" d="M655,977 H665"/><text class="sc" font-size="15" x="670" y="981">2% Dissimilarity</text></g>
</svg>
